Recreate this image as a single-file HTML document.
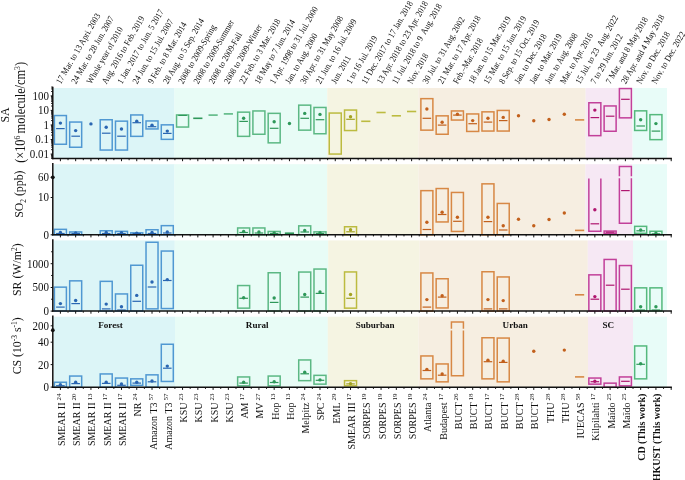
<!DOCTYPE html>
<html><head><meta charset="utf-8"><style>
html,body{margin:0;padding:0;background:#fff;width:685px;height:480px;overflow:hidden}
svg{will-change:transform}
svg text{font-family:"Liberation Serif",serif;fill:#111}
</style></head><body>
<svg width="685" height="480" viewBox="0 0 685 480" style="position:absolute;left:0;top:0">
<rect x="53.50" y="88.00" width="121.10" height="70.60" fill="#dcf5f7"/>
<rect x="174.60" y="88.00" width="152.70" height="70.60" fill="#e8fcf6"/>
<rect x="327.30" y="88.00" width="91.00" height="70.60" fill="#f5f4e2"/>
<rect x="418.30" y="88.00" width="167.40" height="70.60" fill="#f6eee1"/>
<rect x="585.70" y="88.00" width="46.90" height="70.60" fill="#f6e8f4"/>
<rect x="632.60" y="88.00" width="34.40" height="70.60" fill="#e8fcf8"/>
<rect x="53.50" y="164.20" width="121.10" height="70.60" fill="#dcf5f7"/>
<rect x="174.60" y="164.20" width="152.60" height="70.60" fill="#e8fcf6"/>
<rect x="327.20" y="164.20" width="91.30" height="70.60" fill="#f5f4e2"/>
<rect x="418.50" y="164.20" width="167.00" height="70.60" fill="#f6eee1"/>
<rect x="585.50" y="164.20" width="47.00" height="70.60" fill="#f6e8f4"/>
<rect x="632.50" y="164.20" width="34.50" height="70.60" fill="#e8fcf8"/>
<rect x="53.50" y="240.40" width="121.30" height="70.70" fill="#dcf5f7"/>
<rect x="174.80" y="240.40" width="153.40" height="70.70" fill="#e8fcf6"/>
<rect x="328.20" y="240.40" width="91.30" height="70.70" fill="#f5f4e2"/>
<rect x="419.50" y="240.40" width="168.30" height="70.70" fill="#f6eee1"/>
<rect x="587.80" y="240.40" width="45.20" height="70.70" fill="#f6e8f4"/>
<rect x="633.00" y="240.40" width="34.00" height="70.70" fill="#e8fcf8"/>
<rect x="53.50" y="316.70" width="121.50" height="70.60" fill="#dcf5f7"/>
<rect x="175.00" y="316.70" width="152.80" height="70.60" fill="#e8fcf6"/>
<rect x="327.80" y="316.70" width="90.70" height="70.60" fill="#f5f4e2"/>
<rect x="418.50" y="316.70" width="169.50" height="70.60" fill="#f6eee1"/>
<rect x="588.00" y="316.70" width="45.00" height="70.60" fill="#f6e8f4"/>
<rect x="633.00" y="316.70" width="34.00" height="70.60" fill="#e8fcf8"/>
<rect x="54.40" y="115.55" width="12.00" height="28.70" fill="none" stroke="#5098d2" stroke-width="1.5"/>
<line x1="56.10" x2="64.70" y1="128.60" y2="128.60" stroke="#2a66b2" stroke-width="1.2"/>
<circle cx="60.40" cy="123.10" r="1.7" fill="#2a66b2"/>
<rect x="69.67" y="122.05" width="12.00" height="25.20" fill="none" stroke="#5098d2" stroke-width="1.5"/>
<line x1="71.37" x2="79.97" y1="136.20" y2="136.20" stroke="#2a66b2" stroke-width="1.2"/>
<circle cx="75.67" cy="130.60" r="1.7" fill="#2a66b2"/>
<circle cx="90.94" cy="123.90" r="1.7" fill="#2a66b2"/>
<rect x="100.21" y="119.75" width="12.00" height="30.30" fill="none" stroke="#5098d2" stroke-width="1.5"/>
<line x1="101.91" x2="110.51" y1="133.20" y2="133.20" stroke="#2a66b2" stroke-width="1.2"/>
<circle cx="106.21" cy="127.20" r="1.7" fill="#2a66b2"/>
<rect x="115.48" y="121.15" width="12.00" height="28.90" fill="none" stroke="#5098d2" stroke-width="1.5"/>
<line x1="117.18" x2="125.78" y1="136.20" y2="136.20" stroke="#2a66b2" stroke-width="1.2"/>
<circle cx="121.48" cy="129.00" r="1.7" fill="#2a66b2"/>
<rect x="130.75" y="114.95" width="12.00" height="21.40" fill="none" stroke="#5098d2" stroke-width="1.5"/>
<line x1="132.45" x2="141.05" y1="122.70" y2="122.70" stroke="#2a66b2" stroke-width="1.2"/>
<circle cx="136.75" cy="121.30" r="1.7" fill="#2a66b2"/>
<rect x="146.02" y="120.95" width="12.00" height="8.00" fill="none" stroke="#5098d2" stroke-width="1.5"/>
<line x1="147.72" x2="156.32" y1="126.70" y2="126.70" stroke="#2a66b2" stroke-width="1.2"/>
<circle cx="152.02" cy="125.30" r="1.7" fill="#2a66b2"/>
<rect x="161.29" y="124.85" width="12.00" height="14.50" fill="none" stroke="#5098d2" stroke-width="1.5"/>
<line x1="162.99" x2="171.59" y1="133.40" y2="133.40" stroke="#2a66b2" stroke-width="1.2"/>
<circle cx="167.29" cy="131.10" r="1.7" fill="#2a66b2"/>
<rect x="176.56" y="114.95" width="12.00" height="12.10" fill="none" stroke="#5cb884" stroke-width="1.5"/>
<line x1="178.26" x2="186.86" y1="115.40" y2="115.40" stroke="#2f985a" stroke-width="1.2"/>
<line x1="193.23" x2="202.43" y1="118.30" y2="118.30" stroke="#2f985a" stroke-width="1.6"/>
<line x1="208.50" x2="217.70" y1="115.10" y2="115.10" stroke="#5cb884" stroke-width="1.6"/>
<line x1="223.77" x2="232.97" y1="113.90" y2="113.90" stroke="#5cb884" stroke-width="1.6"/>
<rect x="237.64" y="112.15" width="12.00" height="24.20" fill="none" stroke="#5cb884" stroke-width="1.5"/>
<line x1="239.34" x2="247.94" y1="121.40" y2="121.40" stroke="#2f985a" stroke-width="1.2"/>
<circle cx="243.64" cy="118.30" r="1.7" fill="#2f985a"/>
<rect x="252.91" y="110.95" width="12.00" height="23.30" fill="none" stroke="#5cb884" stroke-width="1.5"/>
<rect x="268.18" y="113.35" width="12.00" height="29.50" fill="none" stroke="#5cb884" stroke-width="1.5"/>
<line x1="269.88" x2="278.48" y1="128.30" y2="128.30" stroke="#2f985a" stroke-width="1.2"/>
<circle cx="274.18" cy="121.80" r="1.7" fill="#2f985a"/>
<circle cx="289.45" cy="123.50" r="1.7" fill="#2f985a"/>
<rect x="298.72" y="105.15" width="12.00" height="25.00" fill="none" stroke="#5cb884" stroke-width="1.5"/>
<line x1="300.42" x2="309.02" y1="118.30" y2="118.30" stroke="#2f985a" stroke-width="1.2"/>
<circle cx="304.72" cy="113.40" r="1.7" fill="#2f985a"/>
<rect x="313.99" y="107.45" width="12.00" height="26.30" fill="none" stroke="#5cb884" stroke-width="1.5"/>
<line x1="315.69" x2="324.29" y1="119.70" y2="119.70" stroke="#2f985a" stroke-width="1.2"/>
<circle cx="319.99" cy="114.40" r="1.7" fill="#2f985a"/>
<rect x="329.26" y="113.05" width="12.00" height="41.00" fill="none" stroke="#bcbb40" stroke-width="1.5"/>
<rect x="344.53" y="110.05" width="12.00" height="20.50" fill="none" stroke="#bcbb40" stroke-width="1.5"/>
<line x1="346.23" x2="354.83" y1="119.30" y2="119.30" stroke="#a3a322" stroke-width="1.2"/>
<circle cx="350.53" cy="116.70" r="1.7" fill="#a3a322"/>
<line x1="361.20" x2="370.40" y1="121.30" y2="121.30" stroke="#bcbb40" stroke-width="1.6"/>
<line x1="376.47" x2="385.67" y1="112.50" y2="112.50" stroke="#bcbb40" stroke-width="1.6"/>
<line x1="391.74" x2="400.94" y1="115.80" y2="115.80" stroke="#bcbb40" stroke-width="1.6"/>
<line x1="407.01" x2="416.21" y1="111.50" y2="111.50" stroke="#bcbb40" stroke-width="1.6"/>
<rect x="420.88" y="98.65" width="12.00" height="31.50" fill="none" stroke="#d78845" stroke-width="1.5"/>
<line x1="422.58" x2="431.18" y1="118.30" y2="118.30" stroke="#c2601c" stroke-width="1.2"/>
<circle cx="426.88" cy="109.00" r="1.7" fill="#c2601c"/>
<rect x="436.15" y="115.85" width="12.00" height="18.40" fill="none" stroke="#d78845" stroke-width="1.5"/>
<line x1="437.85" x2="446.45" y1="125.10" y2="125.10" stroke="#c2601c" stroke-width="1.2"/>
<circle cx="442.15" cy="122.30" r="1.7" fill="#c2601c"/>
<rect x="451.42" y="110.95" width="12.00" height="9.10" fill="none" stroke="#d78845" stroke-width="1.5"/>
<line x1="453.12" x2="461.72" y1="115.10" y2="115.10" stroke="#c2601c" stroke-width="1.2"/>
<circle cx="457.42" cy="114.30" r="1.7" fill="#c2601c"/>
<rect x="466.69" y="113.95" width="12.00" height="17.50" fill="none" stroke="#d78845" stroke-width="1.5"/>
<line x1="468.39" x2="476.99" y1="123.70" y2="123.70" stroke="#c2601c" stroke-width="1.2"/>
<circle cx="472.69" cy="120.60" r="1.7" fill="#c2601c"/>
<rect x="481.96" y="111.85" width="12.00" height="19.20" fill="none" stroke="#d78845" stroke-width="1.5"/>
<line x1="483.66" x2="492.26" y1="122.10" y2="122.10" stroke="#c2601c" stroke-width="1.2"/>
<circle cx="487.96" cy="118.30" r="1.7" fill="#c2601c"/>
<rect x="497.23" y="110.45" width="12.00" height="20.60" fill="none" stroke="#d78845" stroke-width="1.5"/>
<line x1="498.93" x2="507.53" y1="120.60" y2="120.60" stroke="#c2601c" stroke-width="1.2"/>
<circle cx="503.23" cy="117.40" r="1.7" fill="#c2601c"/>
<circle cx="518.50" cy="115.70" r="1.7" fill="#c2601c"/>
<circle cx="533.77" cy="120.70" r="1.7" fill="#c2601c"/>
<circle cx="549.04" cy="119.50" r="1.7" fill="#c2601c"/>
<circle cx="564.31" cy="114.30" r="1.7" fill="#c2601c"/>
<line x1="574.98" x2="584.18" y1="119.90" y2="119.90" stroke="#d78845" stroke-width="1.6"/>
<rect x="588.85" y="102.75" width="12.00" height="32.90" fill="none" stroke="#c2409a" stroke-width="1.5"/>
<line x1="590.55" x2="599.15" y1="117.60" y2="117.60" stroke="#b0166f" stroke-width="1.2"/>
<circle cx="594.85" cy="110.10" r="1.7" fill="#b0166f"/>
<rect x="604.12" y="105.95" width="12.00" height="25.30" fill="none" stroke="#c2409a" stroke-width="1.5"/>
<line x1="605.82" x2="614.42" y1="116.20" y2="116.20" stroke="#b0166f" stroke-width="1.2"/>
<rect x="619.39" y="88.55" width="12.00" height="29.30" fill="none" stroke="#c2409a" stroke-width="1.5"/>
<line x1="621.09" x2="629.69" y1="99.30" y2="99.30" stroke="#b0166f" stroke-width="1.2"/>
<rect x="634.66" y="110.85" width="12.00" height="19.60" fill="none" stroke="#55b97d" stroke-width="1.5"/>
<line x1="636.36" x2="644.96" y1="126.00" y2="126.00" stroke="#2f9a5a" stroke-width="1.2"/>
<circle cx="640.66" cy="119.70" r="1.7" fill="#2f9a5a"/>
<rect x="649.93" y="114.65" width="12.00" height="25.00" fill="none" stroke="#55b97d" stroke-width="1.5"/>
<line x1="651.63" x2="660.23" y1="131.10" y2="131.10" stroke="#2f9a5a" stroke-width="1.2"/>
<circle cx="655.93" cy="123.60" r="1.7" fill="#2f9a5a"/>
<rect x="54.40" y="229.35" width="12.00" height="5.45" fill="none" stroke="#5098d2" stroke-width="1.5"/>
<line x1="56.10" x2="64.70" y1="233.50" y2="233.50" stroke="#2a66b2" stroke-width="1.2"/>
<circle cx="60.40" cy="232.40" r="1.7" fill="#2a66b2"/>
<rect x="69.67" y="231.95" width="12.00" height="2.85" fill="none" stroke="#5098d2" stroke-width="1.5"/>
<line x1="71.37" x2="79.97" y1="233.50" y2="233.50" stroke="#2a66b2" stroke-width="1.2"/>
<circle cx="75.67" cy="233.00" r="1.7" fill="#2a66b2"/>
<rect x="100.21" y="230.75" width="12.00" height="4.05" fill="none" stroke="#5098d2" stroke-width="1.5"/>
<line x1="101.91" x2="110.51" y1="233.50" y2="233.50" stroke="#2a66b2" stroke-width="1.2"/>
<circle cx="106.21" cy="232.50" r="1.7" fill="#2a66b2"/>
<rect x="115.48" y="231.35" width="12.00" height="3.45" fill="none" stroke="#5098d2" stroke-width="1.5"/>
<line x1="117.18" x2="125.78" y1="233.50" y2="233.50" stroke="#2a66b2" stroke-width="1.2"/>
<circle cx="121.48" cy="232.80" r="1.7" fill="#2a66b2"/>
<rect x="130.75" y="232.85" width="12.00" height="1.95" fill="none" stroke="#5098d2" stroke-width="1.5"/>
<line x1="132.45" x2="141.05" y1="233.50" y2="233.50" stroke="#2a66b2" stroke-width="1.2"/>
<circle cx="136.75" cy="233.30" r="1.7" fill="#2a66b2"/>
<rect x="146.02" y="229.75" width="12.00" height="5.05" fill="none" stroke="#5098d2" stroke-width="1.5"/>
<line x1="147.72" x2="156.32" y1="233.50" y2="233.50" stroke="#2a66b2" stroke-width="1.2"/>
<circle cx="152.02" cy="232.50" r="1.7" fill="#2a66b2"/>
<rect x="161.29" y="225.65" width="12.00" height="9.15" fill="none" stroke="#5098d2" stroke-width="1.5"/>
<line x1="162.99" x2="171.59" y1="233.00" y2="233.00" stroke="#2a66b2" stroke-width="1.2"/>
<circle cx="167.29" cy="232.00" r="1.7" fill="#2a66b2"/>
<rect x="237.64" y="227.95" width="12.00" height="6.85" fill="none" stroke="#5cb884" stroke-width="1.5"/>
<line x1="239.34" x2="247.94" y1="232.50" y2="232.50" stroke="#2f985a" stroke-width="1.2"/>
<circle cx="243.64" cy="231.50" r="1.7" fill="#2f985a"/>
<rect x="252.91" y="227.95" width="12.00" height="6.85" fill="none" stroke="#5cb884" stroke-width="1.5"/>
<line x1="254.61" x2="263.21" y1="233.00" y2="233.00" stroke="#2f985a" stroke-width="1.2"/>
<circle cx="258.91" cy="232.00" r="1.7" fill="#2f985a"/>
<rect x="268.18" y="231.45" width="12.00" height="3.35" fill="none" stroke="#5cb884" stroke-width="1.5"/>
<line x1="269.88" x2="278.48" y1="233.50" y2="233.50" stroke="#2f985a" stroke-width="1.2"/>
<circle cx="274.18" cy="233.00" r="1.7" fill="#2f985a"/>
<line x1="284.85" x2="294.05" y1="233.20" y2="233.20" stroke="#2f985a" stroke-width="1.6"/>
<rect x="298.72" y="225.85" width="12.00" height="8.95" fill="none" stroke="#5cb884" stroke-width="1.5"/>
<line x1="300.42" x2="309.02" y1="232.00" y2="232.00" stroke="#2f985a" stroke-width="1.2"/>
<circle cx="304.72" cy="230.50" r="1.7" fill="#2f985a"/>
<rect x="313.99" y="231.85" width="12.00" height="2.95" fill="none" stroke="#5cb884" stroke-width="1.5"/>
<line x1="315.69" x2="324.29" y1="233.50" y2="233.50" stroke="#2f985a" stroke-width="1.2"/>
<circle cx="319.99" cy="233.00" r="1.7" fill="#2f985a"/>
<rect x="344.53" y="226.75" width="12.00" height="8.05" fill="none" stroke="#bcbb40" stroke-width="1.5"/>
<line x1="346.23" x2="354.83" y1="231.80" y2="231.80" stroke="#a3a322" stroke-width="1.2"/>
<circle cx="350.53" cy="229.70" r="1.7" fill="#a3a322"/>
<rect x="420.88" y="190.65" width="12.00" height="44.15" fill="none" stroke="#d78845" stroke-width="1.5"/>
<line x1="422.58" x2="431.18" y1="229.50" y2="229.50" stroke="#c2601c" stroke-width="1.2"/>
<circle cx="426.88" cy="222.20" r="1.7" fill="#c2601c"/>
<rect x="436.15" y="188.55" width="12.00" height="33.40" fill="none" stroke="#d78845" stroke-width="1.5"/>
<line x1="437.85" x2="446.45" y1="214.50" y2="214.50" stroke="#c2601c" stroke-width="1.2"/>
<circle cx="442.15" cy="212.20" r="1.7" fill="#c2601c"/>
<rect x="451.42" y="192.45" width="12.00" height="39.00" fill="none" stroke="#d78845" stroke-width="1.5"/>
<line x1="453.12" x2="461.72" y1="221.30" y2="221.30" stroke="#c2601c" stroke-width="1.2"/>
<circle cx="457.42" cy="217.30" r="1.7" fill="#c2601c"/>
<rect x="481.96" y="183.85" width="12.00" height="50.95" fill="none" stroke="#d78845" stroke-width="1.5"/>
<line x1="483.66" x2="492.26" y1="221.60" y2="221.60" stroke="#c2601c" stroke-width="1.2"/>
<circle cx="487.96" cy="217.30" r="1.7" fill="#c2601c"/>
<rect x="497.23" y="203.45" width="12.00" height="31.35" fill="none" stroke="#d78845" stroke-width="1.5"/>
<line x1="498.93" x2="507.53" y1="230.00" y2="230.00" stroke="#c2601c" stroke-width="1.2"/>
<circle cx="503.23" cy="225.70" r="1.7" fill="#c2601c"/>
<circle cx="518.50" cy="219.20" r="1.7" fill="#c2601c"/>
<circle cx="533.77" cy="225.70" r="1.7" fill="#c2601c"/>
<circle cx="549.04" cy="219.50" r="1.7" fill="#c2601c"/>
<circle cx="564.31" cy="213.00" r="1.7" fill="#c2601c"/>
<line x1="574.98" x2="584.18" y1="230.40" y2="230.40" stroke="#d78845" stroke-width="1.6"/>
<path d="M588.85,178.50V231.35H600.85V178.50" fill="none" stroke="#c2409a" stroke-width="1.5"/>
<line x1="590.55" x2="599.15" y1="223.80" y2="223.80" stroke="#b0166f" stroke-width="1.2"/>
<circle cx="594.85" cy="209.80" r="1.7" fill="#b0166f"/>
<rect x="604.12" y="231.05" width="12.00" height="2.30" fill="none" stroke="#c2409a" stroke-width="1.5"/>
<line x1="605.82" x2="614.42" y1="232.20" y2="232.20" stroke="#b0166f" stroke-width="1.2"/>
<path d="M619.39,176.20V166.45H631.39V176.20M619.39,178.30V223.25H631.39V178.30" fill="none" stroke="#c2409a" stroke-width="1.5"/>
<line x1="621.09" x2="629.69" y1="190.60" y2="190.60" stroke="#b0166f" stroke-width="1.2"/>
<rect x="634.66" y="226.35" width="12.00" height="7.00" fill="none" stroke="#55b97d" stroke-width="1.5"/>
<line x1="636.36" x2="644.96" y1="230.80" y2="230.80" stroke="#2f9a5a" stroke-width="1.2"/>
<circle cx="640.66" cy="230.00" r="1.7" fill="#2f9a5a"/>
<rect x="649.93" y="231.25" width="12.00" height="3.55" fill="none" stroke="#55b97d" stroke-width="1.5"/>
<line x1="651.63" x2="660.23" y1="233.80" y2="233.80" stroke="#2f9a5a" stroke-width="1.2"/>
<circle cx="655.93" cy="233.30" r="1.7" fill="#2f9a5a"/>
<rect x="54.40" y="287.15" width="12.00" height="23.95" fill="none" stroke="#5098d2" stroke-width="1.5"/>
<line x1="56.10" x2="64.70" y1="307.10" y2="307.10" stroke="#2a66b2" stroke-width="1.2"/>
<circle cx="60.40" cy="303.60" r="1.7" fill="#2a66b2"/>
<rect x="69.67" y="280.85" width="12.00" height="30.25" fill="none" stroke="#5098d2" stroke-width="1.5"/>
<line x1="71.37" x2="79.97" y1="303.60" y2="303.60" stroke="#2a66b2" stroke-width="1.2"/>
<circle cx="75.67" cy="300.50" r="1.7" fill="#2a66b2"/>
<rect x="100.21" y="281.35" width="12.00" height="29.75" fill="none" stroke="#5098d2" stroke-width="1.5"/>
<line x1="101.91" x2="110.51" y1="308.90" y2="308.90" stroke="#2a66b2" stroke-width="1.2"/>
<circle cx="106.21" cy="304.10" r="1.7" fill="#2a66b2"/>
<rect x="115.48" y="293.95" width="12.00" height="17.15" fill="none" stroke="#5098d2" stroke-width="1.5"/>
<line x1="117.18" x2="125.78" y1="310.00" y2="310.00" stroke="#2a66b2" stroke-width="1.2"/>
<circle cx="121.48" cy="306.80" r="1.7" fill="#2a66b2"/>
<rect x="130.75" y="265.25" width="12.00" height="45.85" fill="none" stroke="#5098d2" stroke-width="1.5"/>
<line x1="132.45" x2="141.05" y1="301.30" y2="301.30" stroke="#2a66b2" stroke-width="1.2"/>
<circle cx="136.75" cy="295.40" r="1.7" fill="#2a66b2"/>
<rect x="146.02" y="242.25" width="12.00" height="66.60" fill="none" stroke="#5098d2" stroke-width="1.5"/>
<line x1="147.72" x2="156.32" y1="287.00" y2="287.00" stroke="#2a66b2" stroke-width="1.2"/>
<circle cx="152.02" cy="282.00" r="1.7" fill="#2a66b2"/>
<rect x="161.29" y="251.05" width="12.00" height="57.50" fill="none" stroke="#5098d2" stroke-width="1.5"/>
<line x1="162.99" x2="171.59" y1="280.50" y2="280.50" stroke="#2a66b2" stroke-width="1.2"/>
<circle cx="167.29" cy="279.60" r="1.7" fill="#2a66b2"/>
<rect x="237.64" y="285.55" width="12.00" height="22.60" fill="none" stroke="#5cb884" stroke-width="1.5"/>
<line x1="239.34" x2="247.94" y1="298.30" y2="298.30" stroke="#2f985a" stroke-width="1.2"/>
<circle cx="243.64" cy="297.80" r="1.7" fill="#2f985a"/>
<rect x="268.18" y="272.75" width="12.00" height="38.35" fill="none" stroke="#5cb884" stroke-width="1.5"/>
<line x1="269.88" x2="278.48" y1="302.40" y2="302.40" stroke="#2f985a" stroke-width="1.2"/>
<circle cx="274.18" cy="298.00" r="1.7" fill="#2f985a"/>
<rect x="298.72" y="272.05" width="12.00" height="39.05" fill="none" stroke="#5cb884" stroke-width="1.5"/>
<line x1="300.42" x2="309.02" y1="297.10" y2="297.10" stroke="#2f985a" stroke-width="1.2"/>
<circle cx="304.72" cy="294.50" r="1.7" fill="#2f985a"/>
<rect x="313.99" y="269.05" width="12.00" height="42.05" fill="none" stroke="#5cb884" stroke-width="1.5"/>
<line x1="315.69" x2="324.29" y1="293.40" y2="293.40" stroke="#2f985a" stroke-width="1.2"/>
<circle cx="319.99" cy="291.90" r="1.7" fill="#2f985a"/>
<rect x="344.53" y="271.95" width="12.00" height="36.20" fill="none" stroke="#bcbb40" stroke-width="1.5"/>
<line x1="346.23" x2="354.83" y1="298.30" y2="298.30" stroke="#a3a322" stroke-width="1.2"/>
<circle cx="350.53" cy="294.50" r="1.7" fill="#a3a322"/>
<rect x="420.88" y="272.95" width="12.00" height="38.15" fill="none" stroke="#d78845" stroke-width="1.5"/>
<line x1="422.58" x2="431.18" y1="307.10" y2="307.10" stroke="#c2601c" stroke-width="1.2"/>
<circle cx="426.88" cy="299.60" r="1.7" fill="#c2601c"/>
<rect x="436.15" y="278.75" width="12.00" height="29.20" fill="none" stroke="#d78845" stroke-width="1.5"/>
<line x1="437.85" x2="446.45" y1="297.10" y2="297.10" stroke="#c2601c" stroke-width="1.2"/>
<circle cx="442.15" cy="295.70" r="1.7" fill="#c2601c"/>
<rect x="481.96" y="271.75" width="12.00" height="39.35" fill="none" stroke="#d78845" stroke-width="1.5"/>
<line x1="483.66" x2="492.26" y1="308.90" y2="308.90" stroke="#c2601c" stroke-width="1.2"/>
<circle cx="487.96" cy="299.60" r="1.7" fill="#c2601c"/>
<rect x="497.23" y="276.95" width="12.00" height="34.15" fill="none" stroke="#d78845" stroke-width="1.5"/>
<line x1="498.93" x2="507.53" y1="308.90" y2="308.90" stroke="#c2601c" stroke-width="1.2"/>
<circle cx="503.23" cy="300.60" r="1.7" fill="#c2601c"/>
<line x1="574.98" x2="584.18" y1="294.80" y2="294.80" stroke="#d78845" stroke-width="1.6"/>
<rect x="588.85" y="274.85" width="12.00" height="36.25" fill="none" stroke="#c2409a" stroke-width="1.5"/>
<line x1="590.55" x2="599.15" y1="299.20" y2="299.20" stroke="#b0166f" stroke-width="1.2"/>
<circle cx="594.85" cy="296.60" r="1.7" fill="#b0166f"/>
<rect x="604.12" y="259.45" width="12.00" height="51.65" fill="none" stroke="#c2409a" stroke-width="1.5"/>
<line x1="605.82" x2="614.42" y1="285.20" y2="285.20" stroke="#b0166f" stroke-width="1.2"/>
<rect x="619.39" y="265.55" width="12.00" height="45.55" fill="none" stroke="#c2409a" stroke-width="1.5"/>
<line x1="621.09" x2="629.69" y1="289.20" y2="289.20" stroke="#b0166f" stroke-width="1.2"/>
<rect x="634.66" y="287.85" width="12.00" height="23.25" fill="none" stroke="#55b97d" stroke-width="1.5"/>
<line x1="636.36" x2="644.96" y1="310.00" y2="310.00" stroke="#2f9a5a" stroke-width="1.2"/>
<circle cx="640.66" cy="306.80" r="1.7" fill="#2f9a5a"/>
<rect x="649.93" y="287.85" width="12.00" height="23.25" fill="none" stroke="#55b97d" stroke-width="1.5"/>
<line x1="651.63" x2="660.23" y1="310.00" y2="310.00" stroke="#2f9a5a" stroke-width="1.2"/>
<circle cx="655.93" cy="306.80" r="1.7" fill="#2f9a5a"/>
<rect x="54.40" y="382.25" width="12.00" height="5.05" fill="none" stroke="#5098d2" stroke-width="1.5"/>
<line x1="56.10" x2="64.70" y1="385.70" y2="385.70" stroke="#2a66b2" stroke-width="1.2"/>
<circle cx="60.40" cy="384.80" r="1.7" fill="#2a66b2"/>
<rect x="69.67" y="376.05" width="12.00" height="11.25" fill="none" stroke="#5098d2" stroke-width="1.5"/>
<line x1="71.37" x2="79.97" y1="383.60" y2="383.60" stroke="#2a66b2" stroke-width="1.2"/>
<circle cx="75.67" cy="382.20" r="1.7" fill="#2a66b2"/>
<rect x="100.21" y="373.95" width="12.00" height="13.35" fill="none" stroke="#5098d2" stroke-width="1.5"/>
<line x1="101.91" x2="110.51" y1="383.40" y2="383.40" stroke="#2a66b2" stroke-width="1.2"/>
<circle cx="106.21" cy="382.20" r="1.7" fill="#2a66b2"/>
<rect x="115.48" y="378.05" width="12.00" height="9.25" fill="none" stroke="#5098d2" stroke-width="1.5"/>
<line x1="117.18" x2="125.78" y1="385.30" y2="385.30" stroke="#2a66b2" stroke-width="1.2"/>
<circle cx="121.48" cy="383.90" r="1.7" fill="#2a66b2"/>
<rect x="130.75" y="378.85" width="12.00" height="6.50" fill="none" stroke="#5098d2" stroke-width="1.5"/>
<line x1="132.45" x2="141.05" y1="383.10" y2="383.10" stroke="#2a66b2" stroke-width="1.2"/>
<circle cx="136.75" cy="382.20" r="1.7" fill="#2a66b2"/>
<rect x="146.02" y="374.85" width="12.00" height="12.45" fill="none" stroke="#5098d2" stroke-width="1.5"/>
<line x1="147.72" x2="156.32" y1="381.80" y2="381.80" stroke="#2a66b2" stroke-width="1.2"/>
<circle cx="152.02" cy="381.00" r="1.7" fill="#2a66b2"/>
<rect x="161.29" y="344.25" width="12.00" height="37.20" fill="none" stroke="#5098d2" stroke-width="1.5"/>
<line x1="162.99" x2="171.59" y1="368.20" y2="368.20" stroke="#2a66b2" stroke-width="1.2"/>
<circle cx="167.29" cy="366.10" r="1.7" fill="#2a66b2"/>
<rect x="237.64" y="376.95" width="12.00" height="8.90" fill="none" stroke="#5cb884" stroke-width="1.5"/>
<line x1="239.34" x2="247.94" y1="383.10" y2="383.10" stroke="#2f985a" stroke-width="1.2"/>
<circle cx="243.64" cy="382.20" r="1.7" fill="#2f985a"/>
<rect x="268.18" y="376.05" width="12.00" height="9.80" fill="none" stroke="#5cb884" stroke-width="1.5"/>
<line x1="269.88" x2="278.48" y1="382.50" y2="382.50" stroke="#2f985a" stroke-width="1.2"/>
<circle cx="274.18" cy="381.70" r="1.7" fill="#2f985a"/>
<rect x="298.72" y="359.95" width="12.00" height="20.70" fill="none" stroke="#5cb884" stroke-width="1.5"/>
<line x1="300.42" x2="309.02" y1="373.80" y2="373.80" stroke="#2f985a" stroke-width="1.2"/>
<circle cx="304.72" cy="372.20" r="1.7" fill="#2f985a"/>
<rect x="313.99" y="375.35" width="12.00" height="8.80" fill="none" stroke="#5cb884" stroke-width="1.5"/>
<line x1="315.69" x2="324.29" y1="380.30" y2="380.30" stroke="#2f985a" stroke-width="1.2"/>
<circle cx="319.99" cy="379.90" r="1.7" fill="#2f985a"/>
<rect x="344.53" y="380.65" width="12.00" height="5.20" fill="none" stroke="#bcbb40" stroke-width="1.5"/>
<line x1="346.23" x2="354.83" y1="383.90" y2="383.90" stroke="#a3a322" stroke-width="1.2"/>
<circle cx="350.53" cy="383.60" r="1.7" fill="#a3a322"/>
<rect x="420.88" y="355.95" width="12.00" height="22.90" fill="none" stroke="#d78845" stroke-width="1.5"/>
<line x1="422.58" x2="431.18" y1="370.50" y2="370.50" stroke="#c2601c" stroke-width="1.2"/>
<circle cx="426.88" cy="369.40" r="1.7" fill="#c2601c"/>
<rect x="436.15" y="363.95" width="12.00" height="17.90" fill="none" stroke="#d78845" stroke-width="1.5"/>
<line x1="437.85" x2="446.45" y1="375.20" y2="375.20" stroke="#c2601c" stroke-width="1.2"/>
<circle cx="442.15" cy="374.00" r="1.7" fill="#c2601c"/>
<path d="M451.42,328.80V321.95H463.42V328.80M451.42,330.50V375.75H463.42V330.50" fill="none" stroke="#d78845" stroke-width="1.5"/>
<rect x="481.96" y="337.75" width="12.00" height="41.10" fill="none" stroke="#d78845" stroke-width="1.5"/>
<line x1="483.66" x2="492.26" y1="361.70" y2="361.70" stroke="#c2601c" stroke-width="1.2"/>
<circle cx="487.96" cy="360.30" r="1.7" fill="#c2601c"/>
<rect x="497.23" y="338.05" width="12.00" height="43.80" fill="none" stroke="#d78845" stroke-width="1.5"/>
<line x1="498.93" x2="507.53" y1="362.40" y2="362.40" stroke="#c2601c" stroke-width="1.2"/>
<circle cx="503.23" cy="361.20" r="1.7" fill="#c2601c"/>
<circle cx="533.77" cy="351.20" r="1.7" fill="#c2601c"/>
<circle cx="564.31" cy="350.10" r="1.7" fill="#c2601c"/>
<line x1="574.98" x2="584.18" y1="376.90" y2="376.90" stroke="#d78845" stroke-width="1.6"/>
<rect x="588.85" y="378.05" width="12.00" height="6.10" fill="none" stroke="#c2409a" stroke-width="1.5"/>
<line x1="590.55" x2="599.15" y1="381.70" y2="381.70" stroke="#b0166f" stroke-width="1.2"/>
<circle cx="594.85" cy="381.30" r="1.7" fill="#b0166f"/>
<rect x="604.12" y="383.15" width="12.00" height="4.15" fill="none" stroke="#c2409a" stroke-width="1.5"/>
<rect x="619.39" y="376.95" width="12.00" height="8.90" fill="none" stroke="#c2409a" stroke-width="1.5"/>
<line x1="621.09" x2="629.69" y1="381.30" y2="381.30" stroke="#b0166f" stroke-width="1.2"/>
<rect x="634.66" y="345.95" width="12.00" height="32.90" fill="none" stroke="#55b97d" stroke-width="1.5"/>
<line x1="636.36" x2="644.96" y1="364.30" y2="364.30" stroke="#2f9a5a" stroke-width="1.2"/>
<circle cx="640.66" cy="363.80" r="1.7" fill="#2f9a5a"/>
<line x1="52.8" x2="52.8" y1="86.8" y2="159.35" stroke="#111" stroke-width="1.5"/>
<line x1="52.05" x2="671.9" y1="158.6" y2="158.6" stroke="#111" stroke-width="1.5"/>
<line x1="60.40" x2="60.40" y1="158.6" y2="161.2" stroke="#111" stroke-width="1"/>
<line x1="68.03" x2="68.03" y1="158.6" y2="160.2" stroke="#111" stroke-width="1"/>
<line x1="75.67" x2="75.67" y1="158.6" y2="161.2" stroke="#111" stroke-width="1"/>
<line x1="83.31" x2="83.31" y1="158.6" y2="160.2" stroke="#111" stroke-width="1"/>
<line x1="90.94" x2="90.94" y1="158.6" y2="161.2" stroke="#111" stroke-width="1"/>
<line x1="98.58" x2="98.58" y1="158.6" y2="160.2" stroke="#111" stroke-width="1"/>
<line x1="106.21" x2="106.21" y1="158.6" y2="161.2" stroke="#111" stroke-width="1"/>
<line x1="113.85" x2="113.85" y1="158.6" y2="160.2" stroke="#111" stroke-width="1"/>
<line x1="121.48" x2="121.48" y1="158.6" y2="161.2" stroke="#111" stroke-width="1"/>
<line x1="129.11" x2="129.11" y1="158.6" y2="160.2" stroke="#111" stroke-width="1"/>
<line x1="136.75" x2="136.75" y1="158.6" y2="161.2" stroke="#111" stroke-width="1"/>
<line x1="144.38" x2="144.38" y1="158.6" y2="160.2" stroke="#111" stroke-width="1"/>
<line x1="152.02" x2="152.02" y1="158.6" y2="161.2" stroke="#111" stroke-width="1"/>
<line x1="159.66" x2="159.66" y1="158.6" y2="160.2" stroke="#111" stroke-width="1"/>
<line x1="167.29" x2="167.29" y1="158.6" y2="161.2" stroke="#111" stroke-width="1"/>
<line x1="174.92" x2="174.92" y1="158.6" y2="160.2" stroke="#111" stroke-width="1"/>
<line x1="182.56" x2="182.56" y1="158.6" y2="161.2" stroke="#111" stroke-width="1"/>
<line x1="190.19" x2="190.19" y1="158.6" y2="160.2" stroke="#111" stroke-width="1"/>
<line x1="197.83" x2="197.83" y1="158.6" y2="161.2" stroke="#111" stroke-width="1"/>
<line x1="205.47" x2="205.47" y1="158.6" y2="160.2" stroke="#111" stroke-width="1"/>
<line x1="213.10" x2="213.10" y1="158.6" y2="161.2" stroke="#111" stroke-width="1"/>
<line x1="220.73" x2="220.73" y1="158.6" y2="160.2" stroke="#111" stroke-width="1"/>
<line x1="228.37" x2="228.37" y1="158.6" y2="161.2" stroke="#111" stroke-width="1"/>
<line x1="236.00" x2="236.00" y1="158.6" y2="160.2" stroke="#111" stroke-width="1"/>
<line x1="243.64" x2="243.64" y1="158.6" y2="161.2" stroke="#111" stroke-width="1"/>
<line x1="251.28" x2="251.28" y1="158.6" y2="160.2" stroke="#111" stroke-width="1"/>
<line x1="258.91" x2="258.91" y1="158.6" y2="161.2" stroke="#111" stroke-width="1"/>
<line x1="266.54" x2="266.54" y1="158.6" y2="160.2" stroke="#111" stroke-width="1"/>
<line x1="274.18" x2="274.18" y1="158.6" y2="161.2" stroke="#111" stroke-width="1"/>
<line x1="281.81" x2="281.81" y1="158.6" y2="160.2" stroke="#111" stroke-width="1"/>
<line x1="289.45" x2="289.45" y1="158.6" y2="161.2" stroke="#111" stroke-width="1"/>
<line x1="297.08" x2="297.08" y1="158.6" y2="160.2" stroke="#111" stroke-width="1"/>
<line x1="304.72" x2="304.72" y1="158.6" y2="161.2" stroke="#111" stroke-width="1"/>
<line x1="312.35" x2="312.35" y1="158.6" y2="160.2" stroke="#111" stroke-width="1"/>
<line x1="319.99" x2="319.99" y1="158.6" y2="161.2" stroke="#111" stroke-width="1"/>
<line x1="327.62" x2="327.62" y1="158.6" y2="160.2" stroke="#111" stroke-width="1"/>
<line x1="335.26" x2="335.26" y1="158.6" y2="161.2" stroke="#111" stroke-width="1"/>
<line x1="342.89" x2="342.89" y1="158.6" y2="160.2" stroke="#111" stroke-width="1"/>
<line x1="350.53" x2="350.53" y1="158.6" y2="161.2" stroke="#111" stroke-width="1"/>
<line x1="358.16" x2="358.16" y1="158.6" y2="160.2" stroke="#111" stroke-width="1"/>
<line x1="365.80" x2="365.80" y1="158.6" y2="161.2" stroke="#111" stroke-width="1"/>
<line x1="373.43" x2="373.43" y1="158.6" y2="160.2" stroke="#111" stroke-width="1"/>
<line x1="381.07" x2="381.07" y1="158.6" y2="161.2" stroke="#111" stroke-width="1"/>
<line x1="388.70" x2="388.70" y1="158.6" y2="160.2" stroke="#111" stroke-width="1"/>
<line x1="396.34" x2="396.34" y1="158.6" y2="161.2" stroke="#111" stroke-width="1"/>
<line x1="403.97" x2="403.97" y1="158.6" y2="160.2" stroke="#111" stroke-width="1"/>
<line x1="411.61" x2="411.61" y1="158.6" y2="161.2" stroke="#111" stroke-width="1"/>
<line x1="419.24" x2="419.24" y1="158.6" y2="160.2" stroke="#111" stroke-width="1"/>
<line x1="426.88" x2="426.88" y1="158.6" y2="161.2" stroke="#111" stroke-width="1"/>
<line x1="434.51" x2="434.51" y1="158.6" y2="160.2" stroke="#111" stroke-width="1"/>
<line x1="442.15" x2="442.15" y1="158.6" y2="161.2" stroke="#111" stroke-width="1"/>
<line x1="449.78" x2="449.78" y1="158.6" y2="160.2" stroke="#111" stroke-width="1"/>
<line x1="457.42" x2="457.42" y1="158.6" y2="161.2" stroke="#111" stroke-width="1"/>
<line x1="465.05" x2="465.05" y1="158.6" y2="160.2" stroke="#111" stroke-width="1"/>
<line x1="472.69" x2="472.69" y1="158.6" y2="161.2" stroke="#111" stroke-width="1"/>
<line x1="480.32" x2="480.32" y1="158.6" y2="160.2" stroke="#111" stroke-width="1"/>
<line x1="487.96" x2="487.96" y1="158.6" y2="161.2" stroke="#111" stroke-width="1"/>
<line x1="495.59" x2="495.59" y1="158.6" y2="160.2" stroke="#111" stroke-width="1"/>
<line x1="503.23" x2="503.23" y1="158.6" y2="161.2" stroke="#111" stroke-width="1"/>
<line x1="510.86" x2="510.86" y1="158.6" y2="160.2" stroke="#111" stroke-width="1"/>
<line x1="518.50" x2="518.50" y1="158.6" y2="161.2" stroke="#111" stroke-width="1"/>
<line x1="526.13" x2="526.13" y1="158.6" y2="160.2" stroke="#111" stroke-width="1"/>
<line x1="533.77" x2="533.77" y1="158.6" y2="161.2" stroke="#111" stroke-width="1"/>
<line x1="541.40" x2="541.40" y1="158.6" y2="160.2" stroke="#111" stroke-width="1"/>
<line x1="549.04" x2="549.04" y1="158.6" y2="161.2" stroke="#111" stroke-width="1"/>
<line x1="556.67" x2="556.67" y1="158.6" y2="160.2" stroke="#111" stroke-width="1"/>
<line x1="564.31" x2="564.31" y1="158.6" y2="161.2" stroke="#111" stroke-width="1"/>
<line x1="571.94" x2="571.94" y1="158.6" y2="160.2" stroke="#111" stroke-width="1"/>
<line x1="579.58" x2="579.58" y1="158.6" y2="161.2" stroke="#111" stroke-width="1"/>
<line x1="587.21" x2="587.21" y1="158.6" y2="160.2" stroke="#111" stroke-width="1"/>
<line x1="594.85" x2="594.85" y1="158.6" y2="161.2" stroke="#111" stroke-width="1"/>
<line x1="602.48" x2="602.48" y1="158.6" y2="160.2" stroke="#111" stroke-width="1"/>
<line x1="610.12" x2="610.12" y1="158.6" y2="161.2" stroke="#111" stroke-width="1"/>
<line x1="617.75" x2="617.75" y1="158.6" y2="160.2" stroke="#111" stroke-width="1"/>
<line x1="625.39" x2="625.39" y1="158.6" y2="161.2" stroke="#111" stroke-width="1"/>
<line x1="633.02" x2="633.02" y1="158.6" y2="160.2" stroke="#111" stroke-width="1"/>
<line x1="640.66" x2="640.66" y1="158.6" y2="161.2" stroke="#111" stroke-width="1"/>
<line x1="648.29" x2="648.29" y1="158.6" y2="160.2" stroke="#111" stroke-width="1"/>
<line x1="655.93" x2="655.93" y1="158.6" y2="161.2" stroke="#111" stroke-width="1"/>
<line x1="663.56" x2="663.56" y1="158.6" y2="160.2" stroke="#111" stroke-width="1"/>
<line x1="671.20" x2="671.20" y1="158.6" y2="161.2" stroke="#111" stroke-width="1"/>
<line x1="52.8" x2="52.8" y1="163.0" y2="235.55" stroke="#111" stroke-width="1.5"/>
<line x1="52.05" x2="671.9" y1="234.8" y2="234.8" stroke="#111" stroke-width="1.5"/>
<line x1="60.40" x2="60.40" y1="234.8" y2="237.4" stroke="#111" stroke-width="1"/>
<line x1="68.03" x2="68.03" y1="234.8" y2="236.4" stroke="#111" stroke-width="1"/>
<line x1="75.67" x2="75.67" y1="234.8" y2="237.4" stroke="#111" stroke-width="1"/>
<line x1="83.31" x2="83.31" y1="234.8" y2="236.4" stroke="#111" stroke-width="1"/>
<line x1="90.94" x2="90.94" y1="234.8" y2="237.4" stroke="#111" stroke-width="1"/>
<line x1="98.58" x2="98.58" y1="234.8" y2="236.4" stroke="#111" stroke-width="1"/>
<line x1="106.21" x2="106.21" y1="234.8" y2="237.4" stroke="#111" stroke-width="1"/>
<line x1="113.85" x2="113.85" y1="234.8" y2="236.4" stroke="#111" stroke-width="1"/>
<line x1="121.48" x2="121.48" y1="234.8" y2="237.4" stroke="#111" stroke-width="1"/>
<line x1="129.11" x2="129.11" y1="234.8" y2="236.4" stroke="#111" stroke-width="1"/>
<line x1="136.75" x2="136.75" y1="234.8" y2="237.4" stroke="#111" stroke-width="1"/>
<line x1="144.38" x2="144.38" y1="234.8" y2="236.4" stroke="#111" stroke-width="1"/>
<line x1="152.02" x2="152.02" y1="234.8" y2="237.4" stroke="#111" stroke-width="1"/>
<line x1="159.66" x2="159.66" y1="234.8" y2="236.4" stroke="#111" stroke-width="1"/>
<line x1="167.29" x2="167.29" y1="234.8" y2="237.4" stroke="#111" stroke-width="1"/>
<line x1="174.92" x2="174.92" y1="234.8" y2="236.4" stroke="#111" stroke-width="1"/>
<line x1="182.56" x2="182.56" y1="234.8" y2="237.4" stroke="#111" stroke-width="1"/>
<line x1="190.19" x2="190.19" y1="234.8" y2="236.4" stroke="#111" stroke-width="1"/>
<line x1="197.83" x2="197.83" y1="234.8" y2="237.4" stroke="#111" stroke-width="1"/>
<line x1="205.47" x2="205.47" y1="234.8" y2="236.4" stroke="#111" stroke-width="1"/>
<line x1="213.10" x2="213.10" y1="234.8" y2="237.4" stroke="#111" stroke-width="1"/>
<line x1="220.73" x2="220.73" y1="234.8" y2="236.4" stroke="#111" stroke-width="1"/>
<line x1="228.37" x2="228.37" y1="234.8" y2="237.4" stroke="#111" stroke-width="1"/>
<line x1="236.00" x2="236.00" y1="234.8" y2="236.4" stroke="#111" stroke-width="1"/>
<line x1="243.64" x2="243.64" y1="234.8" y2="237.4" stroke="#111" stroke-width="1"/>
<line x1="251.28" x2="251.28" y1="234.8" y2="236.4" stroke="#111" stroke-width="1"/>
<line x1="258.91" x2="258.91" y1="234.8" y2="237.4" stroke="#111" stroke-width="1"/>
<line x1="266.54" x2="266.54" y1="234.8" y2="236.4" stroke="#111" stroke-width="1"/>
<line x1="274.18" x2="274.18" y1="234.8" y2="237.4" stroke="#111" stroke-width="1"/>
<line x1="281.81" x2="281.81" y1="234.8" y2="236.4" stroke="#111" stroke-width="1"/>
<line x1="289.45" x2="289.45" y1="234.8" y2="237.4" stroke="#111" stroke-width="1"/>
<line x1="297.08" x2="297.08" y1="234.8" y2="236.4" stroke="#111" stroke-width="1"/>
<line x1="304.72" x2="304.72" y1="234.8" y2="237.4" stroke="#111" stroke-width="1"/>
<line x1="312.35" x2="312.35" y1="234.8" y2="236.4" stroke="#111" stroke-width="1"/>
<line x1="319.99" x2="319.99" y1="234.8" y2="237.4" stroke="#111" stroke-width="1"/>
<line x1="327.62" x2="327.62" y1="234.8" y2="236.4" stroke="#111" stroke-width="1"/>
<line x1="335.26" x2="335.26" y1="234.8" y2="237.4" stroke="#111" stroke-width="1"/>
<line x1="342.89" x2="342.89" y1="234.8" y2="236.4" stroke="#111" stroke-width="1"/>
<line x1="350.53" x2="350.53" y1="234.8" y2="237.4" stroke="#111" stroke-width="1"/>
<line x1="358.16" x2="358.16" y1="234.8" y2="236.4" stroke="#111" stroke-width="1"/>
<line x1="365.80" x2="365.80" y1="234.8" y2="237.4" stroke="#111" stroke-width="1"/>
<line x1="373.43" x2="373.43" y1="234.8" y2="236.4" stroke="#111" stroke-width="1"/>
<line x1="381.07" x2="381.07" y1="234.8" y2="237.4" stroke="#111" stroke-width="1"/>
<line x1="388.70" x2="388.70" y1="234.8" y2="236.4" stroke="#111" stroke-width="1"/>
<line x1="396.34" x2="396.34" y1="234.8" y2="237.4" stroke="#111" stroke-width="1"/>
<line x1="403.97" x2="403.97" y1="234.8" y2="236.4" stroke="#111" stroke-width="1"/>
<line x1="411.61" x2="411.61" y1="234.8" y2="237.4" stroke="#111" stroke-width="1"/>
<line x1="419.24" x2="419.24" y1="234.8" y2="236.4" stroke="#111" stroke-width="1"/>
<line x1="426.88" x2="426.88" y1="234.8" y2="237.4" stroke="#111" stroke-width="1"/>
<line x1="434.51" x2="434.51" y1="234.8" y2="236.4" stroke="#111" stroke-width="1"/>
<line x1="442.15" x2="442.15" y1="234.8" y2="237.4" stroke="#111" stroke-width="1"/>
<line x1="449.78" x2="449.78" y1="234.8" y2="236.4" stroke="#111" stroke-width="1"/>
<line x1="457.42" x2="457.42" y1="234.8" y2="237.4" stroke="#111" stroke-width="1"/>
<line x1="465.05" x2="465.05" y1="234.8" y2="236.4" stroke="#111" stroke-width="1"/>
<line x1="472.69" x2="472.69" y1="234.8" y2="237.4" stroke="#111" stroke-width="1"/>
<line x1="480.32" x2="480.32" y1="234.8" y2="236.4" stroke="#111" stroke-width="1"/>
<line x1="487.96" x2="487.96" y1="234.8" y2="237.4" stroke="#111" stroke-width="1"/>
<line x1="495.59" x2="495.59" y1="234.8" y2="236.4" stroke="#111" stroke-width="1"/>
<line x1="503.23" x2="503.23" y1="234.8" y2="237.4" stroke="#111" stroke-width="1"/>
<line x1="510.86" x2="510.86" y1="234.8" y2="236.4" stroke="#111" stroke-width="1"/>
<line x1="518.50" x2="518.50" y1="234.8" y2="237.4" stroke="#111" stroke-width="1"/>
<line x1="526.13" x2="526.13" y1="234.8" y2="236.4" stroke="#111" stroke-width="1"/>
<line x1="533.77" x2="533.77" y1="234.8" y2="237.4" stroke="#111" stroke-width="1"/>
<line x1="541.40" x2="541.40" y1="234.8" y2="236.4" stroke="#111" stroke-width="1"/>
<line x1="549.04" x2="549.04" y1="234.8" y2="237.4" stroke="#111" stroke-width="1"/>
<line x1="556.67" x2="556.67" y1="234.8" y2="236.4" stroke="#111" stroke-width="1"/>
<line x1="564.31" x2="564.31" y1="234.8" y2="237.4" stroke="#111" stroke-width="1"/>
<line x1="571.94" x2="571.94" y1="234.8" y2="236.4" stroke="#111" stroke-width="1"/>
<line x1="579.58" x2="579.58" y1="234.8" y2="237.4" stroke="#111" stroke-width="1"/>
<line x1="587.21" x2="587.21" y1="234.8" y2="236.4" stroke="#111" stroke-width="1"/>
<line x1="594.85" x2="594.85" y1="234.8" y2="237.4" stroke="#111" stroke-width="1"/>
<line x1="602.48" x2="602.48" y1="234.8" y2="236.4" stroke="#111" stroke-width="1"/>
<line x1="610.12" x2="610.12" y1="234.8" y2="237.4" stroke="#111" stroke-width="1"/>
<line x1="617.75" x2="617.75" y1="234.8" y2="236.4" stroke="#111" stroke-width="1"/>
<line x1="625.39" x2="625.39" y1="234.8" y2="237.4" stroke="#111" stroke-width="1"/>
<line x1="633.02" x2="633.02" y1="234.8" y2="236.4" stroke="#111" stroke-width="1"/>
<line x1="640.66" x2="640.66" y1="234.8" y2="237.4" stroke="#111" stroke-width="1"/>
<line x1="648.29" x2="648.29" y1="234.8" y2="236.4" stroke="#111" stroke-width="1"/>
<line x1="655.93" x2="655.93" y1="234.8" y2="237.4" stroke="#111" stroke-width="1"/>
<line x1="663.56" x2="663.56" y1="234.8" y2="236.4" stroke="#111" stroke-width="1"/>
<line x1="671.20" x2="671.20" y1="234.8" y2="237.4" stroke="#111" stroke-width="1"/>
<line x1="52.8" x2="52.8" y1="239.2" y2="311.85" stroke="#111" stroke-width="1.5"/>
<line x1="52.05" x2="671.9" y1="311.1" y2="311.1" stroke="#111" stroke-width="1.5"/>
<line x1="60.40" x2="60.40" y1="311.1" y2="313.70000000000005" stroke="#111" stroke-width="1"/>
<line x1="68.03" x2="68.03" y1="311.1" y2="312.70000000000005" stroke="#111" stroke-width="1"/>
<line x1="75.67" x2="75.67" y1="311.1" y2="313.70000000000005" stroke="#111" stroke-width="1"/>
<line x1="83.31" x2="83.31" y1="311.1" y2="312.70000000000005" stroke="#111" stroke-width="1"/>
<line x1="90.94" x2="90.94" y1="311.1" y2="313.70000000000005" stroke="#111" stroke-width="1"/>
<line x1="98.58" x2="98.58" y1="311.1" y2="312.70000000000005" stroke="#111" stroke-width="1"/>
<line x1="106.21" x2="106.21" y1="311.1" y2="313.70000000000005" stroke="#111" stroke-width="1"/>
<line x1="113.85" x2="113.85" y1="311.1" y2="312.70000000000005" stroke="#111" stroke-width="1"/>
<line x1="121.48" x2="121.48" y1="311.1" y2="313.70000000000005" stroke="#111" stroke-width="1"/>
<line x1="129.11" x2="129.11" y1="311.1" y2="312.70000000000005" stroke="#111" stroke-width="1"/>
<line x1="136.75" x2="136.75" y1="311.1" y2="313.70000000000005" stroke="#111" stroke-width="1"/>
<line x1="144.38" x2="144.38" y1="311.1" y2="312.70000000000005" stroke="#111" stroke-width="1"/>
<line x1="152.02" x2="152.02" y1="311.1" y2="313.70000000000005" stroke="#111" stroke-width="1"/>
<line x1="159.66" x2="159.66" y1="311.1" y2="312.70000000000005" stroke="#111" stroke-width="1"/>
<line x1="167.29" x2="167.29" y1="311.1" y2="313.70000000000005" stroke="#111" stroke-width="1"/>
<line x1="174.92" x2="174.92" y1="311.1" y2="312.70000000000005" stroke="#111" stroke-width="1"/>
<line x1="182.56" x2="182.56" y1="311.1" y2="313.70000000000005" stroke="#111" stroke-width="1"/>
<line x1="190.19" x2="190.19" y1="311.1" y2="312.70000000000005" stroke="#111" stroke-width="1"/>
<line x1="197.83" x2="197.83" y1="311.1" y2="313.70000000000005" stroke="#111" stroke-width="1"/>
<line x1="205.47" x2="205.47" y1="311.1" y2="312.70000000000005" stroke="#111" stroke-width="1"/>
<line x1="213.10" x2="213.10" y1="311.1" y2="313.70000000000005" stroke="#111" stroke-width="1"/>
<line x1="220.73" x2="220.73" y1="311.1" y2="312.70000000000005" stroke="#111" stroke-width="1"/>
<line x1="228.37" x2="228.37" y1="311.1" y2="313.70000000000005" stroke="#111" stroke-width="1"/>
<line x1="236.00" x2="236.00" y1="311.1" y2="312.70000000000005" stroke="#111" stroke-width="1"/>
<line x1="243.64" x2="243.64" y1="311.1" y2="313.70000000000005" stroke="#111" stroke-width="1"/>
<line x1="251.28" x2="251.28" y1="311.1" y2="312.70000000000005" stroke="#111" stroke-width="1"/>
<line x1="258.91" x2="258.91" y1="311.1" y2="313.70000000000005" stroke="#111" stroke-width="1"/>
<line x1="266.54" x2="266.54" y1="311.1" y2="312.70000000000005" stroke="#111" stroke-width="1"/>
<line x1="274.18" x2="274.18" y1="311.1" y2="313.70000000000005" stroke="#111" stroke-width="1"/>
<line x1="281.81" x2="281.81" y1="311.1" y2="312.70000000000005" stroke="#111" stroke-width="1"/>
<line x1="289.45" x2="289.45" y1="311.1" y2="313.70000000000005" stroke="#111" stroke-width="1"/>
<line x1="297.08" x2="297.08" y1="311.1" y2="312.70000000000005" stroke="#111" stroke-width="1"/>
<line x1="304.72" x2="304.72" y1="311.1" y2="313.70000000000005" stroke="#111" stroke-width="1"/>
<line x1="312.35" x2="312.35" y1="311.1" y2="312.70000000000005" stroke="#111" stroke-width="1"/>
<line x1="319.99" x2="319.99" y1="311.1" y2="313.70000000000005" stroke="#111" stroke-width="1"/>
<line x1="327.62" x2="327.62" y1="311.1" y2="312.70000000000005" stroke="#111" stroke-width="1"/>
<line x1="335.26" x2="335.26" y1="311.1" y2="313.70000000000005" stroke="#111" stroke-width="1"/>
<line x1="342.89" x2="342.89" y1="311.1" y2="312.70000000000005" stroke="#111" stroke-width="1"/>
<line x1="350.53" x2="350.53" y1="311.1" y2="313.70000000000005" stroke="#111" stroke-width="1"/>
<line x1="358.16" x2="358.16" y1="311.1" y2="312.70000000000005" stroke="#111" stroke-width="1"/>
<line x1="365.80" x2="365.80" y1="311.1" y2="313.70000000000005" stroke="#111" stroke-width="1"/>
<line x1="373.43" x2="373.43" y1="311.1" y2="312.70000000000005" stroke="#111" stroke-width="1"/>
<line x1="381.07" x2="381.07" y1="311.1" y2="313.70000000000005" stroke="#111" stroke-width="1"/>
<line x1="388.70" x2="388.70" y1="311.1" y2="312.70000000000005" stroke="#111" stroke-width="1"/>
<line x1="396.34" x2="396.34" y1="311.1" y2="313.70000000000005" stroke="#111" stroke-width="1"/>
<line x1="403.97" x2="403.97" y1="311.1" y2="312.70000000000005" stroke="#111" stroke-width="1"/>
<line x1="411.61" x2="411.61" y1="311.1" y2="313.70000000000005" stroke="#111" stroke-width="1"/>
<line x1="419.24" x2="419.24" y1="311.1" y2="312.70000000000005" stroke="#111" stroke-width="1"/>
<line x1="426.88" x2="426.88" y1="311.1" y2="313.70000000000005" stroke="#111" stroke-width="1"/>
<line x1="434.51" x2="434.51" y1="311.1" y2="312.70000000000005" stroke="#111" stroke-width="1"/>
<line x1="442.15" x2="442.15" y1="311.1" y2="313.70000000000005" stroke="#111" stroke-width="1"/>
<line x1="449.78" x2="449.78" y1="311.1" y2="312.70000000000005" stroke="#111" stroke-width="1"/>
<line x1="457.42" x2="457.42" y1="311.1" y2="313.70000000000005" stroke="#111" stroke-width="1"/>
<line x1="465.05" x2="465.05" y1="311.1" y2="312.70000000000005" stroke="#111" stroke-width="1"/>
<line x1="472.69" x2="472.69" y1="311.1" y2="313.70000000000005" stroke="#111" stroke-width="1"/>
<line x1="480.32" x2="480.32" y1="311.1" y2="312.70000000000005" stroke="#111" stroke-width="1"/>
<line x1="487.96" x2="487.96" y1="311.1" y2="313.70000000000005" stroke="#111" stroke-width="1"/>
<line x1="495.59" x2="495.59" y1="311.1" y2="312.70000000000005" stroke="#111" stroke-width="1"/>
<line x1="503.23" x2="503.23" y1="311.1" y2="313.70000000000005" stroke="#111" stroke-width="1"/>
<line x1="510.86" x2="510.86" y1="311.1" y2="312.70000000000005" stroke="#111" stroke-width="1"/>
<line x1="518.50" x2="518.50" y1="311.1" y2="313.70000000000005" stroke="#111" stroke-width="1"/>
<line x1="526.13" x2="526.13" y1="311.1" y2="312.70000000000005" stroke="#111" stroke-width="1"/>
<line x1="533.77" x2="533.77" y1="311.1" y2="313.70000000000005" stroke="#111" stroke-width="1"/>
<line x1="541.40" x2="541.40" y1="311.1" y2="312.70000000000005" stroke="#111" stroke-width="1"/>
<line x1="549.04" x2="549.04" y1="311.1" y2="313.70000000000005" stroke="#111" stroke-width="1"/>
<line x1="556.67" x2="556.67" y1="311.1" y2="312.70000000000005" stroke="#111" stroke-width="1"/>
<line x1="564.31" x2="564.31" y1="311.1" y2="313.70000000000005" stroke="#111" stroke-width="1"/>
<line x1="571.94" x2="571.94" y1="311.1" y2="312.70000000000005" stroke="#111" stroke-width="1"/>
<line x1="579.58" x2="579.58" y1="311.1" y2="313.70000000000005" stroke="#111" stroke-width="1"/>
<line x1="587.21" x2="587.21" y1="311.1" y2="312.70000000000005" stroke="#111" stroke-width="1"/>
<line x1="594.85" x2="594.85" y1="311.1" y2="313.70000000000005" stroke="#111" stroke-width="1"/>
<line x1="602.48" x2="602.48" y1="311.1" y2="312.70000000000005" stroke="#111" stroke-width="1"/>
<line x1="610.12" x2="610.12" y1="311.1" y2="313.70000000000005" stroke="#111" stroke-width="1"/>
<line x1="617.75" x2="617.75" y1="311.1" y2="312.70000000000005" stroke="#111" stroke-width="1"/>
<line x1="625.39" x2="625.39" y1="311.1" y2="313.70000000000005" stroke="#111" stroke-width="1"/>
<line x1="633.02" x2="633.02" y1="311.1" y2="312.70000000000005" stroke="#111" stroke-width="1"/>
<line x1="640.66" x2="640.66" y1="311.1" y2="313.70000000000005" stroke="#111" stroke-width="1"/>
<line x1="648.29" x2="648.29" y1="311.1" y2="312.70000000000005" stroke="#111" stroke-width="1"/>
<line x1="655.93" x2="655.93" y1="311.1" y2="313.70000000000005" stroke="#111" stroke-width="1"/>
<line x1="663.56" x2="663.56" y1="311.1" y2="312.70000000000005" stroke="#111" stroke-width="1"/>
<line x1="671.20" x2="671.20" y1="311.1" y2="313.70000000000005" stroke="#111" stroke-width="1"/>
<line x1="52.8" x2="52.8" y1="315.5" y2="388.05" stroke="#111" stroke-width="1.5"/>
<line x1="52.05" x2="671.9" y1="387.3" y2="387.3" stroke="#111" stroke-width="1.5"/>
<line x1="60.40" x2="60.40" y1="387.3" y2="389.90000000000003" stroke="#111" stroke-width="1"/>
<line x1="68.03" x2="68.03" y1="387.3" y2="388.90000000000003" stroke="#111" stroke-width="1"/>
<line x1="75.67" x2="75.67" y1="387.3" y2="389.90000000000003" stroke="#111" stroke-width="1"/>
<line x1="83.31" x2="83.31" y1="387.3" y2="388.90000000000003" stroke="#111" stroke-width="1"/>
<line x1="90.94" x2="90.94" y1="387.3" y2="389.90000000000003" stroke="#111" stroke-width="1"/>
<line x1="98.58" x2="98.58" y1="387.3" y2="388.90000000000003" stroke="#111" stroke-width="1"/>
<line x1="106.21" x2="106.21" y1="387.3" y2="389.90000000000003" stroke="#111" stroke-width="1"/>
<line x1="113.85" x2="113.85" y1="387.3" y2="388.90000000000003" stroke="#111" stroke-width="1"/>
<line x1="121.48" x2="121.48" y1="387.3" y2="389.90000000000003" stroke="#111" stroke-width="1"/>
<line x1="129.11" x2="129.11" y1="387.3" y2="388.90000000000003" stroke="#111" stroke-width="1"/>
<line x1="136.75" x2="136.75" y1="387.3" y2="389.90000000000003" stroke="#111" stroke-width="1"/>
<line x1="144.38" x2="144.38" y1="387.3" y2="388.90000000000003" stroke="#111" stroke-width="1"/>
<line x1="152.02" x2="152.02" y1="387.3" y2="389.90000000000003" stroke="#111" stroke-width="1"/>
<line x1="159.66" x2="159.66" y1="387.3" y2="388.90000000000003" stroke="#111" stroke-width="1"/>
<line x1="167.29" x2="167.29" y1="387.3" y2="389.90000000000003" stroke="#111" stroke-width="1"/>
<line x1="174.92" x2="174.92" y1="387.3" y2="388.90000000000003" stroke="#111" stroke-width="1"/>
<line x1="182.56" x2="182.56" y1="387.3" y2="389.90000000000003" stroke="#111" stroke-width="1"/>
<line x1="190.19" x2="190.19" y1="387.3" y2="388.90000000000003" stroke="#111" stroke-width="1"/>
<line x1="197.83" x2="197.83" y1="387.3" y2="389.90000000000003" stroke="#111" stroke-width="1"/>
<line x1="205.47" x2="205.47" y1="387.3" y2="388.90000000000003" stroke="#111" stroke-width="1"/>
<line x1="213.10" x2="213.10" y1="387.3" y2="389.90000000000003" stroke="#111" stroke-width="1"/>
<line x1="220.73" x2="220.73" y1="387.3" y2="388.90000000000003" stroke="#111" stroke-width="1"/>
<line x1="228.37" x2="228.37" y1="387.3" y2="389.90000000000003" stroke="#111" stroke-width="1"/>
<line x1="236.00" x2="236.00" y1="387.3" y2="388.90000000000003" stroke="#111" stroke-width="1"/>
<line x1="243.64" x2="243.64" y1="387.3" y2="389.90000000000003" stroke="#111" stroke-width="1"/>
<line x1="251.28" x2="251.28" y1="387.3" y2="388.90000000000003" stroke="#111" stroke-width="1"/>
<line x1="258.91" x2="258.91" y1="387.3" y2="389.90000000000003" stroke="#111" stroke-width="1"/>
<line x1="266.54" x2="266.54" y1="387.3" y2="388.90000000000003" stroke="#111" stroke-width="1"/>
<line x1="274.18" x2="274.18" y1="387.3" y2="389.90000000000003" stroke="#111" stroke-width="1"/>
<line x1="281.81" x2="281.81" y1="387.3" y2="388.90000000000003" stroke="#111" stroke-width="1"/>
<line x1="289.45" x2="289.45" y1="387.3" y2="389.90000000000003" stroke="#111" stroke-width="1"/>
<line x1="297.08" x2="297.08" y1="387.3" y2="388.90000000000003" stroke="#111" stroke-width="1"/>
<line x1="304.72" x2="304.72" y1="387.3" y2="389.90000000000003" stroke="#111" stroke-width="1"/>
<line x1="312.35" x2="312.35" y1="387.3" y2="388.90000000000003" stroke="#111" stroke-width="1"/>
<line x1="319.99" x2="319.99" y1="387.3" y2="389.90000000000003" stroke="#111" stroke-width="1"/>
<line x1="327.62" x2="327.62" y1="387.3" y2="388.90000000000003" stroke="#111" stroke-width="1"/>
<line x1="335.26" x2="335.26" y1="387.3" y2="389.90000000000003" stroke="#111" stroke-width="1"/>
<line x1="342.89" x2="342.89" y1="387.3" y2="388.90000000000003" stroke="#111" stroke-width="1"/>
<line x1="350.53" x2="350.53" y1="387.3" y2="389.90000000000003" stroke="#111" stroke-width="1"/>
<line x1="358.16" x2="358.16" y1="387.3" y2="388.90000000000003" stroke="#111" stroke-width="1"/>
<line x1="365.80" x2="365.80" y1="387.3" y2="389.90000000000003" stroke="#111" stroke-width="1"/>
<line x1="373.43" x2="373.43" y1="387.3" y2="388.90000000000003" stroke="#111" stroke-width="1"/>
<line x1="381.07" x2="381.07" y1="387.3" y2="389.90000000000003" stroke="#111" stroke-width="1"/>
<line x1="388.70" x2="388.70" y1="387.3" y2="388.90000000000003" stroke="#111" stroke-width="1"/>
<line x1="396.34" x2="396.34" y1="387.3" y2="389.90000000000003" stroke="#111" stroke-width="1"/>
<line x1="403.97" x2="403.97" y1="387.3" y2="388.90000000000003" stroke="#111" stroke-width="1"/>
<line x1="411.61" x2="411.61" y1="387.3" y2="389.90000000000003" stroke="#111" stroke-width="1"/>
<line x1="419.24" x2="419.24" y1="387.3" y2="388.90000000000003" stroke="#111" stroke-width="1"/>
<line x1="426.88" x2="426.88" y1="387.3" y2="389.90000000000003" stroke="#111" stroke-width="1"/>
<line x1="434.51" x2="434.51" y1="387.3" y2="388.90000000000003" stroke="#111" stroke-width="1"/>
<line x1="442.15" x2="442.15" y1="387.3" y2="389.90000000000003" stroke="#111" stroke-width="1"/>
<line x1="449.78" x2="449.78" y1="387.3" y2="388.90000000000003" stroke="#111" stroke-width="1"/>
<line x1="457.42" x2="457.42" y1="387.3" y2="389.90000000000003" stroke="#111" stroke-width="1"/>
<line x1="465.05" x2="465.05" y1="387.3" y2="388.90000000000003" stroke="#111" stroke-width="1"/>
<line x1="472.69" x2="472.69" y1="387.3" y2="389.90000000000003" stroke="#111" stroke-width="1"/>
<line x1="480.32" x2="480.32" y1="387.3" y2="388.90000000000003" stroke="#111" stroke-width="1"/>
<line x1="487.96" x2="487.96" y1="387.3" y2="389.90000000000003" stroke="#111" stroke-width="1"/>
<line x1="495.59" x2="495.59" y1="387.3" y2="388.90000000000003" stroke="#111" stroke-width="1"/>
<line x1="503.23" x2="503.23" y1="387.3" y2="389.90000000000003" stroke="#111" stroke-width="1"/>
<line x1="510.86" x2="510.86" y1="387.3" y2="388.90000000000003" stroke="#111" stroke-width="1"/>
<line x1="518.50" x2="518.50" y1="387.3" y2="389.90000000000003" stroke="#111" stroke-width="1"/>
<line x1="526.13" x2="526.13" y1="387.3" y2="388.90000000000003" stroke="#111" stroke-width="1"/>
<line x1="533.77" x2="533.77" y1="387.3" y2="389.90000000000003" stroke="#111" stroke-width="1"/>
<line x1="541.40" x2="541.40" y1="387.3" y2="388.90000000000003" stroke="#111" stroke-width="1"/>
<line x1="549.04" x2="549.04" y1="387.3" y2="389.90000000000003" stroke="#111" stroke-width="1"/>
<line x1="556.67" x2="556.67" y1="387.3" y2="388.90000000000003" stroke="#111" stroke-width="1"/>
<line x1="564.31" x2="564.31" y1="387.3" y2="389.90000000000003" stroke="#111" stroke-width="1"/>
<line x1="571.94" x2="571.94" y1="387.3" y2="388.90000000000003" stroke="#111" stroke-width="1"/>
<line x1="579.58" x2="579.58" y1="387.3" y2="389.90000000000003" stroke="#111" stroke-width="1"/>
<line x1="587.21" x2="587.21" y1="387.3" y2="388.90000000000003" stroke="#111" stroke-width="1"/>
<line x1="594.85" x2="594.85" y1="387.3" y2="389.90000000000003" stroke="#111" stroke-width="1"/>
<line x1="602.48" x2="602.48" y1="387.3" y2="388.90000000000003" stroke="#111" stroke-width="1"/>
<line x1="610.12" x2="610.12" y1="387.3" y2="389.90000000000003" stroke="#111" stroke-width="1"/>
<line x1="617.75" x2="617.75" y1="387.3" y2="388.90000000000003" stroke="#111" stroke-width="1"/>
<line x1="625.39" x2="625.39" y1="387.3" y2="389.90000000000003" stroke="#111" stroke-width="1"/>
<line x1="633.02" x2="633.02" y1="387.3" y2="388.90000000000003" stroke="#111" stroke-width="1"/>
<line x1="640.66" x2="640.66" y1="387.3" y2="389.90000000000003" stroke="#111" stroke-width="1"/>
<line x1="648.29" x2="648.29" y1="387.3" y2="388.90000000000003" stroke="#111" stroke-width="1"/>
<line x1="655.93" x2="655.93" y1="387.3" y2="389.90000000000003" stroke="#111" stroke-width="1"/>
<line x1="663.56" x2="663.56" y1="387.3" y2="388.90000000000003" stroke="#111" stroke-width="1"/>
<line x1="671.20" x2="671.20" y1="387.3" y2="389.90000000000003" stroke="#111" stroke-width="1"/>
<line x1="50.65" x2="52.8" y1="95.85" y2="95.85" stroke="#111" stroke-width="1"/>
<text transform="translate(48.9,99.83) scale(1,1.22)" text-anchor="end" font-size="11.0">100</text>
<line x1="51.15" x2="52.8" y1="91.47" y2="91.47" stroke="#111" stroke-width="1"/>
<line x1="51.15" x2="52.8" y1="88.91" y2="88.91" stroke="#111" stroke-width="1"/>
<line x1="51.15" x2="52.8" y1="87.09" y2="87.09" stroke="#111" stroke-width="1"/>
<line x1="50.65" x2="52.8" y1="110.40" y2="110.40" stroke="#111" stroke-width="1"/>
<text transform="translate(48.9,114.38) scale(1,1.22)" text-anchor="end" font-size="11.0">10</text>
<line x1="51.15" x2="52.8" y1="106.02" y2="106.02" stroke="#111" stroke-width="1"/>
<line x1="51.15" x2="52.8" y1="103.46" y2="103.46" stroke="#111" stroke-width="1"/>
<line x1="51.15" x2="52.8" y1="101.64" y2="101.64" stroke="#111" stroke-width="1"/>
<line x1="51.15" x2="52.8" y1="100.23" y2="100.23" stroke="#111" stroke-width="1"/>
<line x1="51.15" x2="52.8" y1="99.08" y2="99.08" stroke="#111" stroke-width="1"/>
<line x1="51.15" x2="52.8" y1="98.10" y2="98.10" stroke="#111" stroke-width="1"/>
<line x1="51.15" x2="52.8" y1="97.26" y2="97.26" stroke="#111" stroke-width="1"/>
<line x1="51.15" x2="52.8" y1="96.52" y2="96.52" stroke="#111" stroke-width="1"/>
<line x1="50.65" x2="52.8" y1="124.95" y2="124.95" stroke="#111" stroke-width="1"/>
<text transform="translate(48.9,128.93) scale(1,1.22)" text-anchor="end" font-size="11.0">1</text>
<line x1="51.15" x2="52.8" y1="120.57" y2="120.57" stroke="#111" stroke-width="1"/>
<line x1="51.15" x2="52.8" y1="118.01" y2="118.01" stroke="#111" stroke-width="1"/>
<line x1="51.15" x2="52.8" y1="116.19" y2="116.19" stroke="#111" stroke-width="1"/>
<line x1="51.15" x2="52.8" y1="114.78" y2="114.78" stroke="#111" stroke-width="1"/>
<line x1="51.15" x2="52.8" y1="113.63" y2="113.63" stroke="#111" stroke-width="1"/>
<line x1="51.15" x2="52.8" y1="112.65" y2="112.65" stroke="#111" stroke-width="1"/>
<line x1="51.15" x2="52.8" y1="111.81" y2="111.81" stroke="#111" stroke-width="1"/>
<line x1="51.15" x2="52.8" y1="111.07" y2="111.07" stroke="#111" stroke-width="1"/>
<line x1="50.65" x2="52.8" y1="139.50" y2="139.50" stroke="#111" stroke-width="1"/>
<text transform="translate(48.9,143.47) scale(1,1.22)" text-anchor="end" font-size="11.0">0.1</text>
<line x1="51.15" x2="52.8" y1="135.12" y2="135.12" stroke="#111" stroke-width="1"/>
<line x1="51.15" x2="52.8" y1="132.56" y2="132.56" stroke="#111" stroke-width="1"/>
<line x1="51.15" x2="52.8" y1="130.74" y2="130.74" stroke="#111" stroke-width="1"/>
<line x1="51.15" x2="52.8" y1="129.33" y2="129.33" stroke="#111" stroke-width="1"/>
<line x1="51.15" x2="52.8" y1="128.18" y2="128.18" stroke="#111" stroke-width="1"/>
<line x1="51.15" x2="52.8" y1="127.20" y2="127.20" stroke="#111" stroke-width="1"/>
<line x1="51.15" x2="52.8" y1="126.36" y2="126.36" stroke="#111" stroke-width="1"/>
<line x1="51.15" x2="52.8" y1="125.62" y2="125.62" stroke="#111" stroke-width="1"/>
<line x1="50.65" x2="52.8" y1="154.05" y2="154.05" stroke="#111" stroke-width="1"/>
<text transform="translate(48.9,158.03) scale(1,1.22)" text-anchor="end" font-size="11.0">0.01</text>
<line x1="51.15" x2="52.8" y1="149.67" y2="149.67" stroke="#111" stroke-width="1"/>
<line x1="51.15" x2="52.8" y1="147.11" y2="147.11" stroke="#111" stroke-width="1"/>
<line x1="51.15" x2="52.8" y1="145.29" y2="145.29" stroke="#111" stroke-width="1"/>
<line x1="51.15" x2="52.8" y1="143.88" y2="143.88" stroke="#111" stroke-width="1"/>
<line x1="51.15" x2="52.8" y1="142.73" y2="142.73" stroke="#111" stroke-width="1"/>
<line x1="51.15" x2="52.8" y1="141.75" y2="141.75" stroke="#111" stroke-width="1"/>
<line x1="51.15" x2="52.8" y1="140.91" y2="140.91" stroke="#111" stroke-width="1"/>
<line x1="51.15" x2="52.8" y1="140.17" y2="140.17" stroke="#111" stroke-width="1"/>
<line x1="51.15" x2="52.8" y1="158.43" y2="158.43" stroke="#111" stroke-width="1"/>
<line x1="51.15" x2="52.8" y1="157.28" y2="157.28" stroke="#111" stroke-width="1"/>
<line x1="51.15" x2="52.8" y1="156.30" y2="156.30" stroke="#111" stroke-width="1"/>
<line x1="51.15" x2="52.8" y1="155.46" y2="155.46" stroke="#111" stroke-width="1"/>
<line x1="51.15" x2="52.8" y1="154.72" y2="154.72" stroke="#111" stroke-width="1"/>
<line x1="50.65" x2="52.8" y1="177.30" y2="177.30" stroke="#111" stroke-width="1"/>
<text transform="translate(48.9,181.28) scale(1,1.22)" text-anchor="end" font-size="11.0">60</text>
<line x1="50.65" x2="52.8" y1="197.50" y2="197.50" stroke="#111" stroke-width="1"/>
<text transform="translate(48.9,201.47) scale(1,1.22)" text-anchor="end" font-size="11.0">10</text>
<line x1="50.65" x2="52.8" y1="234.80" y2="234.80" stroke="#111" stroke-width="1"/>
<text transform="translate(48.9,238.78) scale(1,1.22)" text-anchor="end" font-size="11.0">0</text>
<circle cx="52.8" cy="177.3" r="1.9" fill="#111"/>
<line x1="50.65" x2="52.8" y1="263.70" y2="263.70" stroke="#111" stroke-width="1"/>
<text transform="translate(48.9,267.67) scale(1,1.22)" text-anchor="end" font-size="11.0">1000</text>
<line x1="50.65" x2="52.8" y1="287.50" y2="287.50" stroke="#111" stroke-width="1"/>
<text transform="translate(48.9,291.47) scale(1,1.22)" text-anchor="end" font-size="11.0">500</text>
<line x1="50.65" x2="52.8" y1="311.10" y2="311.10" stroke="#111" stroke-width="1"/>
<text transform="translate(48.9,315.07) scale(1,1.22)" text-anchor="end" font-size="11.0">0</text>
<line x1="51.15" x2="52.8" y1="299.23" y2="299.23" stroke="#111" stroke-width="1"/>
<line x1="51.15" x2="52.8" y1="275.49" y2="275.49" stroke="#111" stroke-width="1"/>
<line x1="51.15" x2="52.8" y1="251.75" y2="251.75" stroke="#111" stroke-width="1"/>
<line x1="50.65" x2="52.8" y1="325.80" y2="325.80" stroke="#111" stroke-width="1"/>
<text transform="translate(48.9,329.77) scale(1,1.22)" text-anchor="end" font-size="11.0">200</text>
<line x1="50.65" x2="52.8" y1="342.20" y2="342.20" stroke="#111" stroke-width="1"/>
<text transform="translate(48.9,346.17) scale(1,1.22)" text-anchor="end" font-size="11.0">40</text>
<line x1="50.65" x2="52.8" y1="364.60" y2="364.60" stroke="#111" stroke-width="1"/>
<text transform="translate(48.9,368.57) scale(1,1.22)" text-anchor="end" font-size="11.0">20</text>
<line x1="50.65" x2="52.8" y1="387.10" y2="387.10" stroke="#111" stroke-width="1"/>
<text transform="translate(48.9,391.07) scale(1,1.22)" text-anchor="end" font-size="11.0">0</text>
<circle cx="52.8" cy="330.2" r="1.9" fill="#111"/>
<text x="110.5" y="328.1" text-anchor="middle" font-size="9.1" font-weight="bold">Forest</text>
<text x="257.2" y="328.1" text-anchor="middle" font-size="9.1" font-weight="bold">Rural</text>
<text x="375.1" y="328.1" text-anchor="middle" font-size="9.1" font-weight="bold">Suburban</text>
<text x="515.2" y="328.1" text-anchor="middle" font-size="9.1" font-weight="bold">Urban</text>
<text x="608.3" y="328.1" text-anchor="middle" font-size="9.1" font-weight="bold">SC</text>
<text transform="translate(8.8,114.9) rotate(-90) scale(1,1.14)" text-anchor="middle" font-size="11.8">SA</text>
<text transform="translate(24.6,112.4) rotate(-90) scale(1,1.14)" text-anchor="middle" font-size="12.3">(×10<tspan font-size="7.8" dy="-4.2">6</tspan><tspan dx="2.2" dy="4.2">molecule/cm</tspan><tspan font-size="7.8" dy="-4.2">3</tspan><tspan dy="4.2">)</tspan></text>
<text transform="translate(23.4,194.2) rotate(-90) scale(1,1.14)" text-anchor="middle" font-size="11.8">SO<tspan font-size="7.5" dy="2.5">2</tspan><tspan dy="-2.5"> (ppb)</tspan></text>
<text transform="translate(21.3,269.7) rotate(-90) scale(1,1.14)" text-anchor="middle" font-size="11.8">SR (W/m<tspan font-size="7.5" dy="-4">2</tspan><tspan dy="4">)</tspan></text>
<text transform="translate(21.3,345.8) rotate(-90) scale(1,1.14)" text-anchor="middle" font-size="11.8">CS (10<tspan font-size="7.5" dy="-4">-3</tspan><tspan dy="4"> s</tspan><tspan font-size="7.5" dy="-4">-1</tspan><tspan dy="4">)</tspan></text>
<text transform="translate(64.90,393.6) rotate(-90)" text-anchor="end" font-size="10" >SMEAR II<tspan font-size="7.0" dx="1.9" dy="-3.9">24</tspan></text>
<text transform="translate(80.17,393.6) rotate(-90)" text-anchor="end" font-size="10" >SMEAR II<tspan font-size="7.0" dx="1.9" dy="-3.9">20</tspan></text>
<text transform="translate(95.44,393.6) rotate(-90)" text-anchor="end" font-size="10" >SMEAR II<tspan font-size="7.0" dx="1.9" dy="-3.9">13</tspan></text>
<text transform="translate(110.71,393.6) rotate(-90)" text-anchor="end" font-size="10" >SMEAR II<tspan font-size="7.0" dx="1.9" dy="-3.9">17</tspan></text>
<text transform="translate(125.98,393.6) rotate(-90)" text-anchor="end" font-size="10" >SMEAR II<tspan font-size="7.0" dx="1.9" dy="-3.9">17</tspan></text>
<text transform="translate(141.25,393.6) rotate(-90)" text-anchor="end" font-size="10" >NR<tspan font-size="7.0" dx="1.9" dy="-3.9">24</tspan></text>
<text transform="translate(156.52,393.6) rotate(-90)" text-anchor="end" font-size="10" >Amazon T3<tspan font-size="7.0" dx="1.9" dy="-3.9">57</tspan></text>
<text transform="translate(171.79,393.6) rotate(-90)" text-anchor="end" font-size="10" >Amazon T3<tspan font-size="7.0" dx="1.9" dy="-3.9">57</tspan></text>
<text transform="translate(187.06,393.6) rotate(-90)" text-anchor="end" font-size="10" >KSU<tspan font-size="7.0" dx="1.9" dy="-3.9">23</tspan></text>
<text transform="translate(202.33,393.6) rotate(-90)" text-anchor="end" font-size="10" >KSU<tspan font-size="7.0" dx="1.9" dy="-3.9">23</tspan></text>
<text transform="translate(217.60,393.6) rotate(-90)" text-anchor="end" font-size="10" >KSU<tspan font-size="7.0" dx="1.9" dy="-3.9">23</tspan></text>
<text transform="translate(232.87,393.6) rotate(-90)" text-anchor="end" font-size="10" >KSU<tspan font-size="7.0" dx="1.9" dy="-3.9">23</tspan></text>
<text transform="translate(248.14,393.6) rotate(-90)" text-anchor="end" font-size="10" >AM<tspan font-size="7.0" dx="1.9" dy="-3.9">17</tspan></text>
<text transform="translate(263.41,393.6) rotate(-90)" text-anchor="end" font-size="10" >MV<tspan font-size="7.0" dx="1.9" dy="-3.9">27</tspan></text>
<text transform="translate(278.68,393.6) rotate(-90)" text-anchor="end" font-size="10" >Hop<tspan font-size="7.0" dx="1.9" dy="-3.9">13</tspan></text>
<text transform="translate(293.95,393.6) rotate(-90)" text-anchor="end" font-size="10" >Hop<tspan font-size="7.0" dx="1.9" dy="-3.9">13</tspan></text>
<text transform="translate(309.22,393.6) rotate(-90)" text-anchor="end" font-size="10" >Melpitz<tspan font-size="7.0" dx="1.9" dy="-3.9">24</tspan></text>
<text transform="translate(324.49,393.6) rotate(-90)" text-anchor="end" font-size="10" >SPC<tspan font-size="7.0" dx="1.9" dy="-3.9">24</tspan></text>
<text transform="translate(339.76,393.6) rotate(-90)" text-anchor="end" font-size="10" >EML<tspan font-size="7.0" dx="1.9" dy="-3.9">29</tspan></text>
<text transform="translate(355.03,393.6) rotate(-90)" text-anchor="end" font-size="10" >SMEAR III<tspan font-size="7.0" dx="1.9" dy="-3.9">17</tspan></text>
<text transform="translate(370.30,393.6) rotate(-90)" text-anchor="end" font-size="10" >SORPES<tspan font-size="7.0" dx="1.9" dy="-3.9">19</tspan></text>
<text transform="translate(385.57,393.6) rotate(-90)" text-anchor="end" font-size="10" >SORPES<tspan font-size="7.0" dx="1.9" dy="-3.9">19</tspan></text>
<text transform="translate(400.84,393.6) rotate(-90)" text-anchor="end" font-size="10" >SORPES<tspan font-size="7.0" dx="1.9" dy="-3.9">19</tspan></text>
<text transform="translate(416.11,393.6) rotate(-90)" text-anchor="end" font-size="10" >SORPES<tspan font-size="7.0" dx="1.9" dy="-3.9">19</tspan></text>
<text transform="translate(431.38,393.6) rotate(-90)" text-anchor="end" font-size="10" >Atlanta<tspan font-size="7.0" dx="1.9" dy="-3.9">24</tspan></text>
<text transform="translate(446.65,393.6) rotate(-90)" text-anchor="end" font-size="10" >Budapest<tspan font-size="7.0" dx="1.9" dy="-3.9">17</tspan></text>
<text transform="translate(461.92,393.6) rotate(-90)" text-anchor="end" font-size="10" >BUCT<tspan font-size="7.0" dx="1.9" dy="-3.9">26</tspan></text>
<text transform="translate(477.19,393.6) rotate(-90)" text-anchor="end" font-size="10" >BUCT<tspan font-size="7.0" dx="1.9" dy="-3.9">18</tspan></text>
<text transform="translate(492.46,393.6) rotate(-90)" text-anchor="end" font-size="10" >BUCT<tspan font-size="7.0" dx="1.9" dy="-3.9">17</tspan></text>
<text transform="translate(507.73,393.6) rotate(-90)" text-anchor="end" font-size="10" >BUCT<tspan font-size="7.0" dx="1.9" dy="-3.9">17</tspan></text>
<text transform="translate(523.00,393.6) rotate(-90)" text-anchor="end" font-size="10" >BUCT<tspan font-size="7.0" dx="1.9" dy="-3.9">28</tspan></text>
<text transform="translate(538.27,393.6) rotate(-90)" text-anchor="end" font-size="10" >BUCT<tspan font-size="7.0" dx="1.9" dy="-3.9">28</tspan></text>
<text transform="translate(553.54,393.6) rotate(-90)" text-anchor="end" font-size="10" >THU<tspan font-size="7.0" dx="1.9" dy="-3.9">28</tspan></text>
<text transform="translate(568.81,393.6) rotate(-90)" text-anchor="end" font-size="10" >THU<tspan font-size="7.0" dx="1.9" dy="-3.9">28</tspan></text>
<text transform="translate(584.08,393.6) rotate(-90)" text-anchor="end" font-size="10" >IUECAS<tspan font-size="7.0" dx="1.9" dy="-3.9">58</tspan></text>
<text transform="translate(599.35,393.6) rotate(-90)" text-anchor="end" font-size="10" >Kilpilahti<tspan font-size="7.0" dx="1.9" dy="-3.9">17</tspan></text>
<text transform="translate(614.62,393.6) rotate(-90)" text-anchor="end" font-size="10" >Maïdo<tspan font-size="7.0" dx="1.9" dy="-3.9">25</tspan></text>
<text transform="translate(629.89,393.6) rotate(-90)" text-anchor="end" font-size="10" >Maïdo<tspan font-size="7.0" dx="1.9" dy="-3.9">25</tspan></text>
<text transform="translate(645.16,393.6) rotate(-90)" text-anchor="end" font-size="10" font-weight="bold">CD (This work)</text>
<text transform="translate(660.43,393.6) rotate(-90)" text-anchor="end" font-size="10" font-weight="bold">HKUST (This work)</text>
<text transform="translate(60.80,84.5) rotate(-60) scale(1,1.12)" font-size="8.05" xml:space="preserve">17 Mar. to 13 Apri. 2003</text>
<text transform="translate(76.07,84.5) rotate(-60) scale(1,1.12)" font-size="8.05" xml:space="preserve">24 Mar. to 28 Jun. 2007</text>
<text transform="translate(91.34,84.5) rotate(-60) scale(1,1.12)" font-size="8.05" xml:space="preserve">Whole year of 2010</text>
<text transform="translate(106.61,84.5) rotate(-60) scale(1,1.12)" font-size="8.05" xml:space="preserve">Aug. 2016 to Feb. 2019</text>
<text transform="translate(121.88,84.5) rotate(-60) scale(1,1.12)" font-size="8.05" xml:space="preserve">1 Jan. 2017 to Jun. 5 2017</text>
<text transform="translate(137.15,84.5) rotate(-60) scale(1,1.12)" font-size="8.05" xml:space="preserve">24 Jun. to 15 Jul. 2007</text>
<text transform="translate(152.42,84.5) rotate(-60) scale(1,1.12)" font-size="8.05" xml:space="preserve">9 Feb. to 8 Mar. 2014</text>
<text transform="translate(167.69,84.5) rotate(-60) scale(1,1.12)" font-size="8.05" xml:space="preserve">28 Aug. to 5 Sep. 2014</text>
<text transform="translate(182.96,84.5) rotate(-60) scale(1,1.12)" font-size="8.05" xml:space="preserve">2008 to 2009-Spring</text>
<text transform="translate(198.23,84.5) rotate(-60) scale(1,1.12)" font-size="8.05" xml:space="preserve">2008 to 2009-Summer</text>
<text transform="translate(213.50,84.5) rotate(-60) scale(1,1.12)" font-size="8.05" xml:space="preserve">2008 to 2009-Fall</text>
<text transform="translate(228.77,84.5) rotate(-60) scale(1,1.12)" font-size="8.05" xml:space="preserve">2008 to 2009-Winter</text>
<text transform="translate(244.04,84.5) rotate(-60) scale(1,1.12)" font-size="8.05" xml:space="preserve">22 Feb. to 3 Mar. 2018</text>
<text transform="translate(259.31,84.5) rotate(-60) scale(1,1.12)" font-size="8.05" xml:space="preserve">18 May to 7 Jun. 2014</text>
<text transform="translate(274.58,84.5) rotate(-60) scale(1,1.12)" font-size="8.05" xml:space="preserve">1 Apr. 1998 to 31 Jul. 2000</text>
<text transform="translate(289.85,84.5) rotate(-60) scale(1,1.12)" font-size="8.05" xml:space="preserve">Jan. to Aug. 2000</text>
<text transform="translate(305.12,84.5) rotate(-60) scale(1,1.12)" font-size="8.05" xml:space="preserve">30 Apr. to 31 May 2008</text>
<text transform="translate(320.39,84.5) rotate(-60) scale(1,1.12)" font-size="8.05" xml:space="preserve">21 Jun. to 16 Jul. 2009</text>
<text transform="translate(335.66,84.5) rotate(-60) scale(1,1.12)" font-size="8.05" xml:space="preserve">Jun. 2011</text>
<text transform="translate(350.93,84.5) rotate(-60) scale(1,1.12)" font-size="8.05" xml:space="preserve">1 to 16 Jul. 2019</text>
<text transform="translate(366.20,84.5) rotate(-60) scale(1,1.12)" font-size="8.05" xml:space="preserve">11 Dec. 2017 to 17 Jan. 2018</text>
<text transform="translate(381.47,84.5) rotate(-60) scale(1,1.12)" font-size="8.05" xml:space="preserve">13 Apr. 2018 to 23 Apr. 2018</text>
<text transform="translate(396.74,84.5) rotate(-60) scale(1,1.12)" font-size="8.05" xml:space="preserve">11 Jul. 2018 to 9  Aug. 2018</text>
<text transform="translate(412.01,84.5) rotate(-60) scale(1,1.12)" font-size="8.05" xml:space="preserve">Nov. 2018</text>
<text transform="translate(427.28,84.5) rotate(-60) scale(1,1.12)" font-size="8.05" xml:space="preserve">30 Jul. to 31 Aug. 2002</text>
<text transform="translate(442.55,84.5) rotate(-60) scale(1,1.12)" font-size="8.05" xml:space="preserve">21 Mar. to 17 Apr. 2018</text>
<text transform="translate(457.82,84.5) rotate(-60) scale(1,1.12)" font-size="8.05" xml:space="preserve">Feb.–Mar. 2018</text>
<text transform="translate(473.09,84.5) rotate(-60) scale(1,1.12)" font-size="8.05" xml:space="preserve">18 Jan. to 15 Mar. 2019</text>
<text transform="translate(488.36,84.5) rotate(-60) scale(1,1.12)" font-size="8.05" xml:space="preserve">15 Mar. to 15 Jun. 2019</text>
<text transform="translate(503.63,84.5) rotate(-60) scale(1,1.12)" font-size="8.05" xml:space="preserve">8 Sep. to 15 Oct. 2019</text>
<text transform="translate(518.90,84.5) rotate(-60) scale(1,1.12)" font-size="8.05" xml:space="preserve">Jan. to Dec. 2018</text>
<text transform="translate(534.17,84.5) rotate(-60) scale(1,1.12)" font-size="8.05" xml:space="preserve">Jan. to Mar. 2019</text>
<text transform="translate(549.44,84.5) rotate(-60) scale(1,1.12)" font-size="8.05" xml:space="preserve">Jun. to Aug. 2008</text>
<text transform="translate(564.71,84.5) rotate(-60) scale(1,1.12)" font-size="8.05" xml:space="preserve">Mar. to Apr. 2016</text>
<text transform="translate(579.98,84.5) rotate(-60) scale(1,1.12)" font-size="8.05" xml:space="preserve">15 Jul. to 23  Aug. 2022</text>
<text transform="translate(595.25,84.5) rotate(-60) scale(1,1.12)" font-size="8.05" xml:space="preserve">7 to 29 Jun. 2012</text>
<text transform="translate(610.52,84.5) rotate(-60) scale(1,1.12)" font-size="8.05" xml:space="preserve">7 Mar. and 8 May 2018</text>
<text transform="translate(625.79,84.5) rotate(-60) scale(1,1.12)" font-size="8.05" xml:space="preserve">28 Apr. and 4 May 2018</text>
<text transform="translate(641.06,84.5) rotate(-60) scale(1,1.12)" font-size="8.05" xml:space="preserve">Nov. to Dec. 2018</text>
<text transform="translate(656.33,84.5) rotate(-60) scale(1,1.12)" font-size="8.05" xml:space="preserve">Nov. to Dec. 2022</text>
</svg>
</body></html>
